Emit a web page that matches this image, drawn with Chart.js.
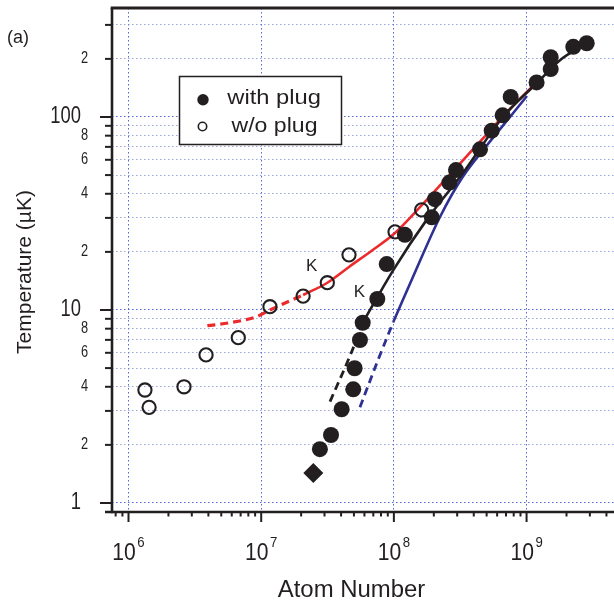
<!DOCTYPE html>
<html><head><meta charset="utf-8">
<script src="https://cdn.jsdelivr.net/npm/chart.js@4/dist/chart.umd.min.js"></script>
<style>html,body{margin:0;padding:0;background:#fff}canvas{display:block}</style>
</head><body>
<canvas id="c" width="614" height="600"></canvas>
<script>
// ---- data ----
const withPlugN = [2.77e7, 3.36e7, 4.04e7, 4.94e7, 5.06e7, 5.55e7, 5.82e7, 7.5e7, 8.83e7, 1.21e8, 1.93e8, 2.04e8, 2.62e8, 2.94e8, 4.46e8, 5.46e8, 6.6e8, 7.59e8, 1.19e9, 1.52e9, 1.52e9, 2.25e9, 2.84e9];
const withPlugT = [1.90, 2.25, 3.06, 3.88, 4.99, 6.99, 8.59, 11.4, 17.3, 24.5, 30.2, 37.5, 45.7, 53.1, 68.0, 84.9, 102, 127, 151, 177, 204, 231, 241];
const withoutPlugN = [1.33e6, 1.43e6, 2.62e6, 3.84e6, 6.72e6, 1.164e7, 2.07e7, 3.15e7, 4.59e7, 1.02e8, 1.62e8];
const withoutPlugT = [3.85, 3.13, 4.0, 5.85, 7.19, 10.4, 11.8, 13.85, 19.3, 25.4, 33.0];
const diamondN = [2.47e7];
const diamondT = [1.43];
const redDashN = [3.93e6, 5.82e6, 9.25e6, 1.164e7, 2.07e7];
const redDashT = [8.29, 8.59, 9.23, 10.0, 11.96];
const redSolidN = [2.07e7, 3.13e7, 4.59e7, 6.84e7, 1.02e8, 1.63e8, 2.15e8, 3.15e8, 4.46e8, 7.5e8, 1.26e9];
const redSolidT = [11.96, 13.8, 16.71, 20.34, 25.06, 35.0, 43.1, 57.4, 74.6, 110.0, 157.4];
const blackDashN = [3.30e7, 4.81e7, 5.82e7];
const blackDashT = [3.35, 6.08, 8.59];
const blackSolidN = [5.82e7, 9.9e7, 1.766e8, 3.32e8, 6.64e8, 1.197e9, 1.786e9, 2.85e9];
const blackSolidT = [8.59, 16.1, 29.3, 51.3, 100, 150, 197, 241.7];
const blueDashN = [5.55e7, 7.42e7, 9.9e7];
const blueDashT = [3.13, 5.29, 8.67];
const blueSolidN = [9.9e7, 1.468e8, 2.225e8, 3.26e8, 5.12e8, 7.5e8, 1.007e9];
const blueSolidT = [8.67, 16.12, 30.33, 48.3, 72.5, 100, 128.5];

// ---- axis ticks / labels ----
const xMajorTicks = [1e6, 1e7, 1e8, 1e9];
const xTickExponents = ['6', '7', '8', '9'];
const yGridValues = [1,2,3,4,5,6,7,8,9,10,20,30,40,50,60,70,80,90,100,200,300];
const yLabelValues = [1, 2, 4, 6, 8, 10, 20, 40, 60, 80, 100, 200];
const yLabelTexts = ['1', '2', '4', '6', '8', '10', '2', '4', '6', '8', '100', '2'];
const legendLabels = ['with plug', 'w/o plug'];
const kLabels = [{text: 'K', n: 2.40e7, t: 16.77}, {text: 'K', n: 5.49e7, t: 12.29}];

const X_MIN = 7.51e5, X_MAX = 4.56e9, Y_MIN = 0.898, Y_MAX = 367;
const INK = '#231f20', RED = '#ec2a2c', BLUE = '#2e3192';

const xy = (N, T) => N.map((n, i) => ({x: n, y: T[i]}));
const isDecade = v => Math.abs(Math.log10(v) - Math.round(Math.log10(v))) < 1e-9;

function txt(ctx, s, x, y, font, align, base, sx) {
  ctx.save();
  ctx.font = font; ctx.textAlign = align; ctx.textBaseline = base;
  ctx.translate(x, y); ctx.scale(sx, 1);
  ctx.fillText(s, 0, 0);
  ctx.restore();
}
function seg(ctx, x1, y1, x2, y2, w) {
  ctx.lineWidth = w; ctx.beginPath(); ctx.moveTo(x1, y1); ctx.lineTo(x2, y2); ctx.stroke();
}

const deco = {
  id: 'deco',
  afterDraw(chart) {
    const {ctx, chartArea: a, scales: {x, y}} = chart;
    ctx.save();
    ctx.strokeStyle = INK; ctx.fillStyle = INK; ctx.lineCap = 'butt';
    // frame
    seg(ctx, a.left - 1.3, a.top, a.right, a.top, 3);
    seg(ctx, a.left, a.top, a.left, a.bottom + 1.3, 2.6);
    seg(ctx, 105, a.bottom, a.right, a.bottom, 2.6);
    // y ticks
    yGridValues.forEach(v => {
      const py = y.getPixelForValue(v);
      seg(ctx, a.left - (isDecade(v) ? 12 : 7), py, a.left, py, 2);
    });
    // x ticks (major + minor)
    for (let d = 1e5; d <= 1e9; d *= 10) {
      for (let k = 1; k <= 9; k++) {
        const v = k * d;
        if (v < X_MIN || v > X_MAX) continue;
        const px = x.getPixelForValue(v);
        seg(ctx, px, a.bottom, px, a.bottom + (k === 1 ? 10 : 4.5), 2);
      }
    }
    // y labels
    const F = "'Liberation Sans', Arial, sans-serif";
    yLabelValues.forEach((v, i) => {
      const py = y.getPixelForValue(v);
      if (isDecade(v)) txt(ctx, yLabelTexts[i], 81, py, '23px ' + F, 'right', 'middle', 0.8);
      else txt(ctx, yLabelTexts[i], 88, py, '16px ' + F, 'right', 'middle', 0.8);
    });
    // x labels 10^n
    xMajorTicks.forEach((v, i) => {
      const px = x.getPixelForValue(v);
      ctx.font = '24px ' + F;
      const w1 = ctx.measureText('10').width * 0.88;
      ctx.font = '15px ' + F;
      const w2 = ctx.measureText(xTickExponents[i]).width * 0.88;
      const x0 = px - (w1 + 1.5 + w2) / 2;
      txt(ctx, '10', x0, 560, '24px ' + F, 'left', 'alphabetic', 0.88);
      txt(ctx, xTickExponents[i], x0 + w1 + 1.5, 547, '15px ' + F, 'left', 'alphabetic', 0.88);
    });
    // axis titles
    txt(ctx, 'Atom Number', 351.5, 596.5, '23px ' + F, 'center', 'alphabetic', 1.04);
    ctx.save();
    ctx.translate(30.6, 272); ctx.rotate(-Math.PI / 2);
    ctx.font = '21px ' + F; ctx.textAlign = 'center'; ctx.textBaseline = 'alphabetic';
    ctx.fillText('Temperature (\u00B5K)', 0, 0);
    ctx.restore();
    // panel label
    txt(ctx, '(a)', 7, 43, '18px ' + F, 'left', 'alphabetic', 1);
    // K labels
    kLabels.forEach(k => {
      txt(ctx, k.text, x.getPixelForValue(k.n), y.getPixelForValue(k.t), '17px ' + F, 'center', 'middle', 1);
    });
    // legend
    ctx.fillStyle = '#fff';
    ctx.fillRect(179.5, 76.5, 162, 68);
    ctx.strokeStyle = INK; ctx.lineWidth = 1.5;
    ctx.strokeRect(179.5, 76.5, 162, 68);
    ctx.fillStyle = INK;
    ctx.beginPath(); ctx.arc(203, 99.7, 5.7, 0, Math.PI * 2); ctx.fill();
    ctx.lineWidth = 1.6;
    ctx.beginPath(); ctx.arc(202.5, 126.5, 4.2, 0, Math.PI * 2); ctx.stroke();
    txt(ctx, legendLabels[0], 227.3, 104, '21px ' + F, 'left', 'alphabetic', 1.13);
    txt(ctx, legendLabels[1], 231.5, 131.5, '21px ' + F, 'left', 'alphabetic', 1.1);
    ctx.restore();
  }
};

const gridDash = [1.5, 2.5];
new Chart(document.getElementById('c'), {
  type: 'scatter',
  data: {
    datasets: [
      {label: 'diamond', data: xy(diamondN, diamondT), order: 0, pointStyle: 'rectRot', pointRadius: 10, backgroundColor: INK, borderWidth: 0},
      {label: 'with plug', data: xy(withPlugN, withPlugT), order: 1, pointStyle: 'circle', pointRadius: 8, backgroundColor: INK, borderWidth: 0},
      {label: 'w/o plug', data: xy(withoutPlugN, withoutPlugT), order: 2, pointStyle: 'circle', pointRadius: 6.6, backgroundColor: 'rgba(0,0,0,0)', borderColor: INK, borderWidth: 2.1},
      {label: 'black', data: xy(blackSolidN, blackSolidT), order: 3, showLine: true, pointRadius: 0, borderColor: INK, borderWidth: 2.6, cubicInterpolationMode: 'monotone'},
      {label: 'black dash', data: xy(blackDashN, blackDashT), order: 3, showLine: true, pointRadius: 0, borderColor: INK, borderWidth: 2.8, borderDash: [8, 5], cubicInterpolationMode: 'monotone'},
      {label: 'red', data: xy(redSolidN, redSolidT), order: 4, showLine: true, pointRadius: 0, borderColor: RED, borderWidth: 2.6, cubicInterpolationMode: 'monotone'},
      {label: 'red dash', data: xy(redDashN, redDashT), order: 4, showLine: true, pointRadius: 0, borderColor: RED, borderWidth: 3.2, borderDash: [8, 5], cubicInterpolationMode: 'monotone'},
      {label: 'blue', data: xy(blueSolidN, blueSolidT), order: 5, showLine: true, pointRadius: 0, borderColor: BLUE, borderWidth: 2.6, cubicInterpolationMode: 'monotone'},
      {label: 'blue dash', data: xy(blueDashN, blueDashT), order: 5, showLine: true, pointRadius: 0, borderColor: BLUE, borderWidth: 2.8, borderDash: [8, 5], cubicInterpolationMode: 'monotone'}
    ]
  },
  options: {
    responsive: false, animation: false, devicePixelRatio: 1,
    layout: {autoPadding: false, padding: {top: 8, left: 0, right: 0, bottom: 0}},
    plugins: {legend: {display: false}, tooltip: {enabled: false}},
    scales: {
      x: {
        type: 'logarithmic', min: X_MIN, max: X_MAX,
        afterBuildTicks: s => { s.ticks = xMajorTicks.map(v => ({value: v})); },
        afterFit: s => { s.height = 88; },
        ticks: {display: false},
        grid: {color: 'rgba(70,90,205,0.9)', lineWidth: 1, drawTicks: false, borderDash: gridDash},
        border: {display: false, dash: gridDash}
      },
      y: {
        type: 'logarithmic', min: Y_MIN, max: Y_MAX,
        afterBuildTicks: s => { s.ticks = yGridValues.map(v => ({value: v})); },
        afterFit: s => { s.width = 112; },
        ticks: {display: false},
        grid: {
          color: c => (c.tick && isDecade(c.tick.value)) ? 'rgba(70,90,205,0.9)' : 'rgba(120,135,210,0.75)',
          lineWidth: 1, drawTicks: false, borderDash: gridDash
        },
        border: {display: false, dash: gridDash}
      }
    }
  },
  plugins: [deco]
});
</script>
</body></html>
